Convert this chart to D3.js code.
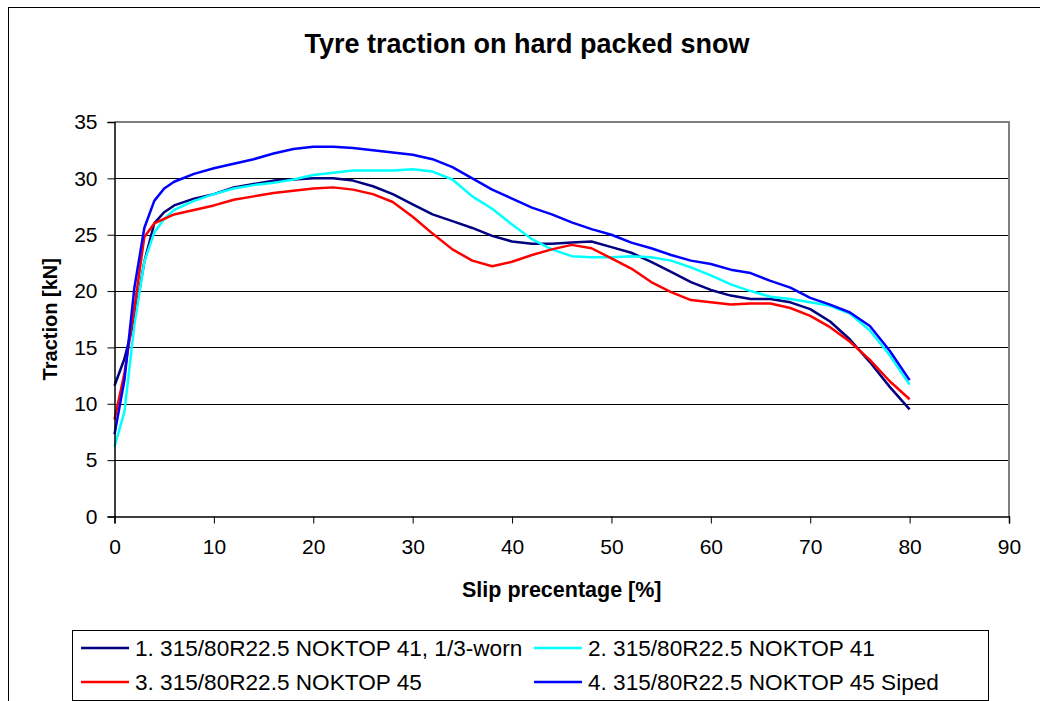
<!DOCTYPE html>
<html>
<head>
<meta charset="utf-8">
<script src="https://cdn.jsdelivr.net/npm/d3@7"></script>
<style>
  body { margin: 0; background: #fff; }
  svg { display: block; font-family: "Liberation Sans", Arial, sans-serif; }
</style>
</head>
<body>
<div id="chart"></div>
<script>
// slip percentage, shared by all four tyres
const slip = [0,1,2,3,4,5,6,8,10,12,14,16,18,20,22,24,26,28,30,32,34,36,38,40,42,44,46,48,50,52,54,56,58,60,62,64,66,68,70,72,74,76,78,80];

const worn41 = [11.6,14.0,17.5,22.6,26.0,27.0,27.6,28.2,28.6,29.2,29.5,29.8,29.9,30.0,30.0,29.8,29.3,28.6,27.7,26.8,26.2,25.6,24.9,24.4,24.2,24.2,24.3,24.4,23.9,23.4,22.6,21.7,20.8,20.1,19.6,19.3,19.3,19.0,18.4,17.3,15.7,13.7,11.5,9.5];
const noktop41 = [6.2,9.3,17.0,22.6,25.2,26.4,27.2,28.0,28.6,29.1,29.4,29.6,29.9,30.3,30.5,30.7,30.7,30.7,30.8,30.6,29.9,28.4,27.3,25.9,24.6,23.7,23.1,23.0,23.0,23.1,23.0,22.7,22.1,21.4,20.6,20.0,19.5,19.3,19.0,18.7,18.0,16.5,14.3,11.7];
const noktop45 = [8.6,12.7,18.5,24.8,26.0,26.4,26.8,27.2,27.6,28.1,28.4,28.7,28.9,29.1,29.2,29.0,28.6,27.9,26.6,25.1,23.7,22.7,22.2,22.6,23.2,23.7,24.1,23.8,22.9,22.0,20.8,19.9,19.2,19.0,18.8,18.9,18.9,18.5,17.8,16.8,15.5,13.9,12.0,10.4];
const siped45 = [7.3,12.1,20.3,25.6,28.0,29.1,29.7,30.4,30.9,31.3,31.7,32.2,32.6,32.8,32.8,32.7,32.5,32.3,32.1,31.7,31.0,30.0,29.0,28.2,27.4,26.8,26.1,25.5,25.0,24.3,23.8,23.2,22.7,22.4,21.9,21.6,20.9,20.3,19.4,18.8,18.1,16.9,14.7,12.1];

const seriesNames = [
  "1. 315/80R22.5 NOKTOP 41, 1/3-worn",
  "2. 315/80R22.5 NOKTOP 41",
  "3. 315/80R22.5 NOKTOP 45",
  "4. 315/80R22.5 NOKTOP 45 Siped"
];
const seriesColors = ["#000080", "#00FFFF", "#FF0000", "#0000FF"];
const xTicks = [0,10,20,30,40,50,60,70,80,90];
const yTicks = [0,5,10,15,20,25,30,35];

const W = 1040, H = 701;
const plot = { left: 114.5, right: 1009, top: 122, bottom: 516.5 };

const svg = d3.select("#chart").append("svg")
    .attr("width", W)
    .attr("height", H);

// outer chart frame
svg.append("rect")
    .attr("x", 8.5).attr("y", 7.5)
    .attr("width", 1045).attr("height", 705)
    .attr("fill", "#fff")
    .attr("stroke", "#000")
    .attr("stroke-width", 1);

const x = d3.scaleLinear().domain([0, 90]).range([plot.left, plot.right]);
const y = d3.scaleLinear().domain([0, 35]).range([plot.bottom, plot.top]);

// gridlines
svg.append("g")
    .selectAll("line")
    .data(yTicks.filter(d => d > 0 && d < 35))
    .join("line")
    .attr("x1", plot.left).attr("x2", plot.right)
    .attr("y1", d => Math.round(y(d)) + 0.5)
    .attr("y2", d => Math.round(y(d)) + 0.5)
    .attr("stroke", "#000")
    .attr("stroke-width", 1);

// plot area border (top / right grey)
svg.append("path")
    .attr("d", `M${plot.left},${plot.top}H${plot.right}V${plot.bottom}`)
    .attr("fill", "none")
    .attr("stroke", "#808080")
    .attr("stroke-width", 2);

// series
const line = d3.line()
    .x((d, i) => x(slip[i]))
    .y(d => y(d));

[worn41, noktop41, noktop45, siped45].forEach((vals, i) => {
    svg.append("path")
        .datum(vals)
        .attr("fill", "none")
        .attr("stroke", seriesColors[i])
        .attr("stroke-width", 2.5)
        .attr("stroke-linejoin", "round")
        .attr("d", line);
});

// axes
const yAxis = svg.append("g")
    .attr("transform", `translate(${plot.left},0)`)
    .call(d3.axisLeft(y).tickValues(yTicks).tickSize(7).tickPadding(10));
const xAxis = svg.append("g")
    .attr("transform", `translate(0,${plot.bottom})`)
    .call(d3.axisBottom(x).tickValues(xTicks).tickSize(7).tickPadding(16));

[yAxis, xAxis].forEach(g => {
    g.select(".domain").attr("stroke", "#000").attr("stroke-width", 1.5);
    g.selectAll(".tick line").attr("stroke", "#000").attr("stroke-width", 1);
    g.selectAll(".tick text")
        .attr("fill", "#000")
        .style("font-size", "21px")
        .style("font-family", '"Liberation Sans", Arial, sans-serif');
});

// titles
svg.append("text")
    .attr("x", 527).attr("y", 53)
    .attr("text-anchor", "middle")
    .style("font-size", "27px")
    .style("font-weight", "bold")
    .text("Tyre traction on hard packed snow");

svg.append("text")
    .attr("x", (plot.left + plot.right) / 2).attr("y", 597)
    .attr("text-anchor", "middle")
    .style("font-size", "21.5px")
    .style("font-weight", "bold")
    .text("Slip precentage [%]");

svg.append("text")
    .attr("transform", `translate(57,${(plot.top + plot.bottom) / 2}) rotate(-90)`)
    .attr("text-anchor", "middle")
    .style("font-size", "20px")
    .style("font-weight", "bold")
    .text("Traction [kN]");

// legend
const legend = svg.append("g");
legend.append("rect")
    .attr("x", 72.5).attr("y", 630.5)
    .attr("width", 916).attr("height", 70)
    .attr("fill", "#fff")
    .attr("stroke", "#000")
    .attr("stroke-width", 1);

const legendPos = [
    { lx: 81, ly: 648 },
    { lx: 534, ly: 648 },
    { lx: 81, ly: 682 },
    { lx: 534, ly: 682 }
];

seriesNames.forEach((name, i) => {
    const p = legendPos[i];
    legend.append("line")
        .attr("x1", p.lx).attr("x2", p.lx + 48)
        .attr("y1", p.ly).attr("y2", p.ly)
        .attr("stroke", seriesColors[i])
        .attr("stroke-width", 2.5);
    legend.append("text")
        .attr("x", p.lx + 54).attr("y", p.ly)
        .attr("dy", "0.36em")
        .style("font-size", "22.6px")
        .text(name);
});
</script>
</body>
</html>
